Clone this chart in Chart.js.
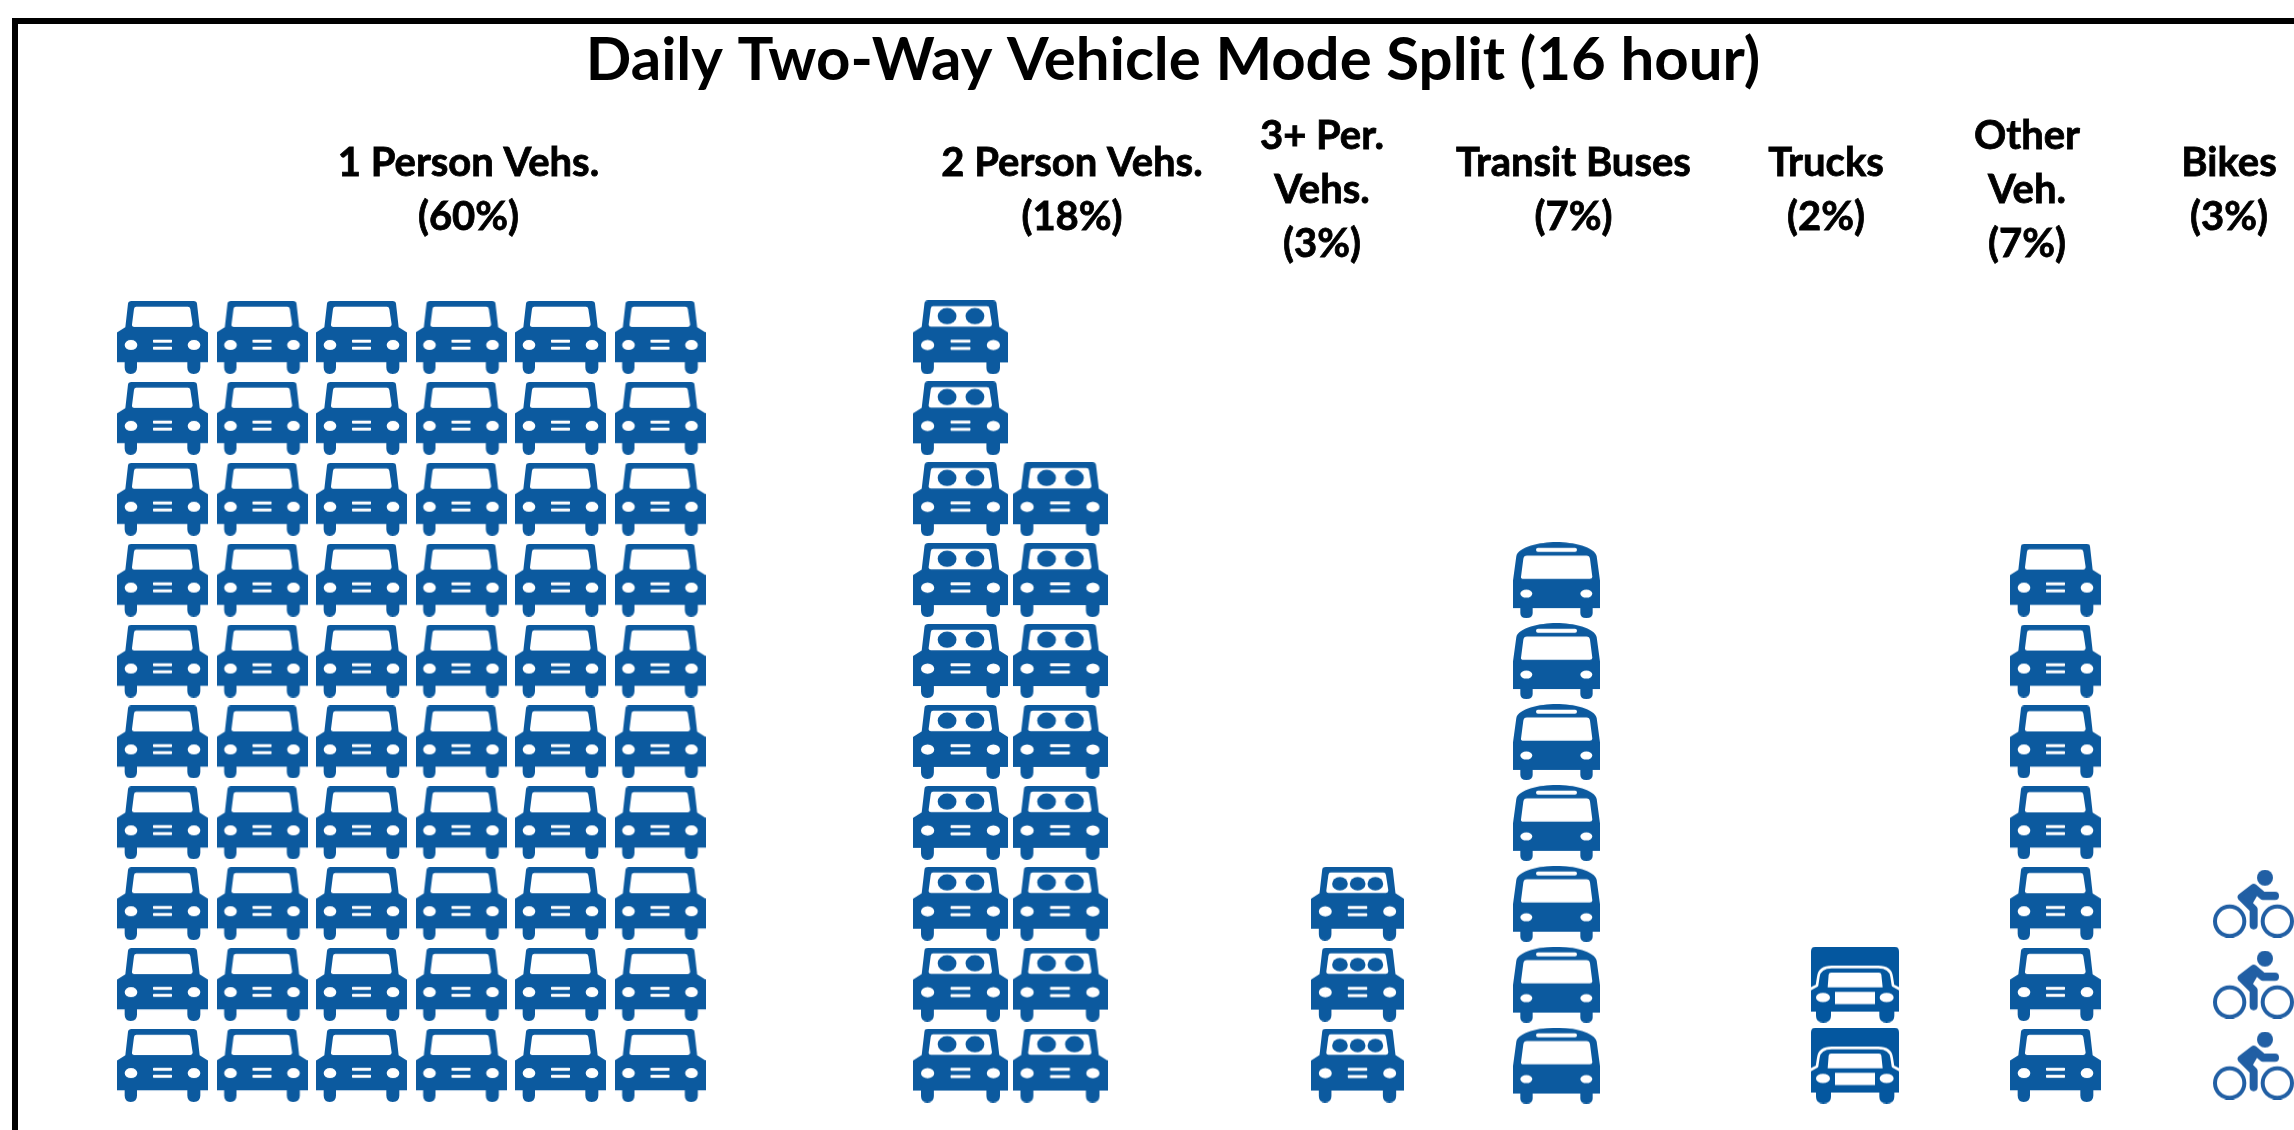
<!DOCTYPE html>
<html>
<head>
<meta charset="utf-8">
<style>html,body{margin:0;padding:0;background:#fff;overflow:hidden}canvas{display:block}</style>
<script src="https://cdn.jsdelivr.net/npm/chart.js@4"></script>
</head>
<body>
<canvas id="c" width="2294" height="1130"></canvas>
<script>
// ---- data ----
const chartTitle = 'Daily Two-Way Vehicle Mode Split (16 hour)';
const categories = ['1 Person Vehs.', '2 Person Vehs.', '3+ Per. Vehs.', 'Transit Buses', 'Trucks', 'Other Veh.', 'Bikes'];
const sharePercent = [60, 18, 3, 7, 2, 7, 3];
const tickLines = [['1 Person Vehs.'], ['2 Person Vehs.'], ['3+ Per.', 'Vehs.'], ['Transit Buses'], ['Trucks'], ['Other', 'Veh.'], ['Bikes']];
const iconKinds = ['car1', 'car2', 'car3', 'bus', 'truck', 'carOther', 'bike'];
const iconsPerColumn = 10;
// layout, in axis units (1 unit = 100 px across, 1 unit = one icon row down)
const groupFirstColumn = [1.625, 9.605, 13.575, 15.565, 18.55, 20.555, 22.535];
const labelCenters = [4.685, 10.72, 13.22, 15.735, 18.26, 20.27, 22.29];
const columnPitch = 0.995;

const BLUE = '#0c5a9f', BIKE_BLUE = '#215fa4', TRUCK_BLUE = '#04579f';

function surface(w, h, W, H) {
  const cv = document.createElement('canvas');
  cv.width = w; cv.height = h;
  const g = cv.getContext('2d');
  g.scale(w / W, h / H);
  return [cv, g];
}
function rr(p, x, y, w, h, r) { p.roundRect(x, y, w, h, r); }

function carIcon(w, h, people) {
  const [cv, g] = surface(w, h, 273, 217);
  const b = new Path2D();
  b.moveTo(33, 8); b.quadraticCurveTo(34, 0, 44, 0);
  b.lineTo(229, 0); b.quadraticCurveTo(239, 0, 240, 8);
  b.lineTo(248, 78); b.lineTo(273, 94); b.lineTo(273, 182);
  b.lineTo(250, 182); b.lineTo(250, 198); b.quadraticCurveTo(250, 217, 230, 217);
  b.quadraticCurveTo(211, 217, 211, 198); b.lineTo(211, 182);
  b.lineTo(60, 182); b.lineTo(60, 198); b.quadraticCurveTo(60, 217, 41, 217);
  b.quadraticCurveTo(23, 217, 23, 198); b.lineTo(23, 182);
  b.lineTo(0, 182); b.lineTo(0, 94); b.lineTo(25, 78); b.closePath();
  // windscreen
  b.moveTo(58, 17); b.lineTo(212, 17); b.quadraticCurveTo(219, 17, 220, 24);
  b.lineTo(227, 70); b.quadraticCurveTo(227, 77, 220, 77);
  b.lineTo(52, 77); b.quadraticCurveTo(44, 77, 45, 70);
  b.lineTo(51, 24); b.quadraticCurveTo(52, 17, 58, 17); b.closePath();
  // lamps
  b.moveTo(61, 131); b.ellipse(42, 131, 19, 15, 0, 0, Math.PI * 2);
  b.moveTo(250, 131); b.ellipse(231, 131, 19, 15, 0, 0, Math.PI * 2);
  // grille
  rr(b, 108, 115, 57, 9, 2); rr(b, 108, 136, 57, 9, 2);
  g.fillStyle = BLUE;
  g.fill(b, 'evenodd');
  const seats = { 2: [[98, 46, 27, 24], [178, 46, 27, 24]], 3: [[85, 50, 23, 20], [137, 50, 23, 20], [189, 50, 23, 20]] }[people] || [];
  seats.forEach(s => { g.beginPath(); g.ellipse(s[0], s[1], s[2], s[3], 0, 0, Math.PI * 2); g.fill(); });
  return cv;
}

function busIcon(w, h) {
  const [cv, g] = surface(w, h, 261, 227);
  const b = new Path2D();
  b.moveTo(0, 115); b.lineTo(10, 42);
  b.bezierCurveTo(16, 14, 80, 0, 130, 0);
  b.bezierCurveTo(181, 0, 245, 14, 251, 42);
  b.lineTo(261, 115); b.lineTo(261, 197); b.lineTo(239, 197); b.lineTo(239, 212);
  b.quadraticCurveTo(239, 227, 220, 227); b.quadraticCurveTo(202, 227, 202, 212); b.lineTo(202, 197);
  b.lineTo(59, 197); b.lineTo(59, 212);
  b.quadraticCurveTo(59, 227, 40, 227); b.quadraticCurveTo(22, 227, 22, 212); b.lineTo(22, 197);
  b.lineTo(0, 197); b.closePath();
  // windscreen
  b.moveTo(42, 40); b.lineTo(220, 40); b.quadraticCurveTo(230, 40, 231, 50);
  b.lineTo(238, 104); b.quadraticCurveTo(238, 110, 230, 110);
  b.lineTo(32, 110); b.quadraticCurveTo(23, 110, 24, 104);
  b.lineTo(31, 50); b.quadraticCurveTo(32, 40, 42, 40); b.closePath();
  rr(b, 69, 17, 123, 12, 6);
  b.moveTo(58, 154); b.ellipse(40, 154, 18, 12, 0, 0, Math.PI * 2);
  b.moveTo(238, 154); b.ellipse(220, 154, 18, 12, 0, 0, Math.PI * 2);
  g.fillStyle = BLUE;
  g.fill(b, 'evenodd');
  return cv;
}

function truckIcon(w, h) {
  const [cv, g] = surface(w, h, 264, 227);
  const b = new Path2D();
  b.moveTo(14, 0); b.lineTo(250, 0); b.quadraticCurveTo(264, 0, 264, 14);
  b.lineTo(264, 194); b.lineTo(250, 194); b.lineTo(250, 207);
  b.quadraticCurveTo(250, 227, 227, 227); b.quadraticCurveTo(205, 227, 205, 207); b.lineTo(205, 194);
  b.lineTo(60, 194); b.lineTo(60, 207);
  b.quadraticCurveTo(60, 227, 37, 227); b.quadraticCurveTo(15, 227, 15, 207); b.lineTo(15, 194);
  b.lineTo(0, 194); b.lineTo(0, 14); b.quadraticCurveTo(0, 0, 14, 0); b.closePath();
  // windscreen
  b.moveTo(60, 78); b.lineTo(204, 78); b.quadraticCurveTo(210, 78, 211, 84);
  b.lineTo(215, 122); b.lineTo(50, 122); b.lineTo(53, 84); b.quadraticCurveTo(54, 78, 60, 78); b.closePath();
  // grille + lamps
  b.rect(72, 135, 120, 37);
  b.moveTo(57, 152); b.ellipse(36, 152, 21, 14, 0, 0, Math.PI * 2);
  b.moveTo(248, 152); b.ellipse(227, 152, 21, 14, 0, 0, Math.PI * 2);
  g.fillStyle = TRUCK_BLUE;
  g.fill(b, 'evenodd');
  // white outline separating the cab from the cargo box
  g.strokeStyle = '#fff'; g.lineWidth = 8; g.lineJoin = 'round';
  g.beginPath();
  g.moveTo(-2, 127); g.lineTo(18, 116); g.lineTo(22, 90);
  g.bezierCurveTo(25, 68, 40, 61, 62, 61); g.lineTo(202, 61);
  g.bezierCurveTo(224, 61, 239, 68, 242, 90); g.lineTo(246, 116); g.lineTo(266, 127);
  g.stroke();
  return cv;
}

function bikeIcon(w, h) {
  const [cv, g] = surface(w, h, 243, 203);
  g.fillStyle = BIKE_BLUE; g.strokeStyle = BIKE_BLUE;
  g.lineWidth = 12;
  g.beginPath(); g.arc(50, 154, 44, 0, Math.PI * 2); g.stroke();
  g.beginPath(); g.arc(193, 154, 44, 0, Math.PI * 2); g.stroke();
  g.beginPath(); g.arc(156, 24, 24, 0, Math.PI * 2); g.fill();
  g.lineWidth = 24; g.lineCap = 'round'; g.lineJoin = 'round';
  g.beginPath(); g.moveTo(186, 78); g.lineTo(150, 78); g.lineTo(122, 54); g.lineTo(86, 82); g.lineTo(122, 118); g.lineTo(122, 166); g.stroke();
  g.beginPath(); g.moveTo(122, 54); g.lineTo(86, 82); g.lineTo(116, 106); g.lineTo(136, 72); g.closePath(); g.fill();
  return cv;
}

const iconBuilders = {
  car1: () => carIcon(91, 73, 0),
  car2: () => carIcon(95, 74, 2),
  car3: () => carIcon(93, 74, 3),
  bus: () => busIcon(87, 76),
  truck: () => truckIcon(88, 76),
  carOther: () => carIcon(91, 73, 0),
  bike: () => bikeIcon(81, 68)
};

const datasets = categories.map((name, i) => {
  const data = [];
  for (let n = 0; n < sharePercent[i]; n++) {
    const col = Math.floor(n / iconsPerColumn);
    data.push({ x: groupFirstColumn[i] + col * columnPitch, y: n % iconsPerColumn });
  }
  return {
    label: name, data, showLine: false,
    pointStyle: iconBuilders[iconKinds[i]](), pointRadius: 40, pointHoverRadius: 40,
    clip: false
  };
});

const framePlugin = {
  id: 'frame',
  beforeDraw(chart) {
    const g = chart.ctx;
    g.save(); g.fillStyle = '#000';
    g.fillRect(12, 18, 2282, 6);
    g.fillRect(12, 18, 6, 1112);
    g.restore();
    // the title sits right of the canvas centre in the reference
    if (chart.titleBlock) chart.titleBlock.left = 52;
  }
};

Chart.defaults.font.family = 'Lato, Carlito, sans-serif';
new Chart(document.getElementById('c'), {
  type: 'scatter',
  data: { datasets },
  plugins: [framePlugin],
  options: {
    responsive: false, animation: false, devicePixelRatio: 1,
    layout: { padding: 0, autoPadding: false },
    plugins: {
      legend: { display: false }, tooltip: { enabled: false },
      title: {
        display: true, text: chartTitle, color: '#000',
        font: { family: 'Lato, Carlito, sans-serif', size: 60, weight: 'bold', lineHeight: 1 },
        padding: { top: 31, bottom: 0 }
      }
    },
    scales: {
      x: {
        type: 'linear', position: 'top', min: 0, max: 22.94,
        grid: { display: false, drawTicks: false }, border: { display: false },
        afterBuildTicks(s) { s.ticks = labelCenters.map(v => ({ value: v })); },
        afterFit(s) { s.height = 194; s.paddingLeft = 0; s.paddingRight = 0; },
        ticks: {
          autoSkip: false, maxRotation: 0, minRotation: 0, align: 'center', crossAlign: 'center',
          color: '#000', padding: 41, textStrokeColor: '#000', textStrokeWidth: 0.8,
          font: { size: 40, weight: 'bold', lineHeight: 1.35 },
          callback(v, idx) { return [...tickLines[idx], '(' + sharePercent[idx] + '%)']; }
        }
      },
      y: {
        display: false, type: 'linear', min: -0.797, max: 9.648
      }
    }
  }
});
</script>
</body>
</html>
